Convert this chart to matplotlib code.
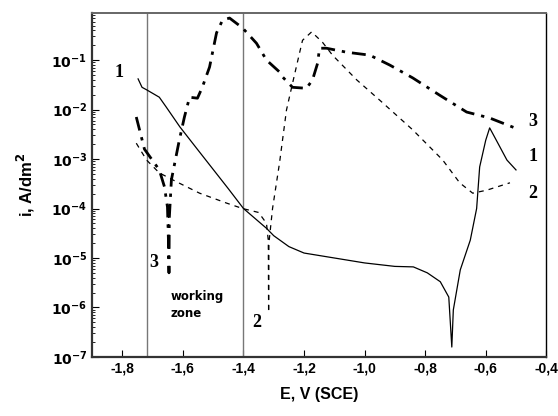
import matplotlib
matplotlib.use("Agg")
import matplotlib.pyplot as plt
import numpy as np

# curve 1 (solid)
e1 = [-1.748, -1.735, -1.72, -1.678, -1.655, -1.61, -1.55, -1.5, -1.45, -1.4, -1.324, -1.3,
      -1.25, -1.2, -1.1, -1.0, -0.9, -0.839, -0.793, -0.75, -0.722, -0.712, -0.707, -0.684,
      -0.651, -0.63, -0.62, -0.6, -0.587, -0.565, -0.53, -0.50]
lg1 = [-1.38, -1.55, -1.6, -1.75, -1.95, -2.35, -2.82, -3.21, -3.6, -4.0, -4.4, -4.55,
       -4.77, -4.9, -5.0, -5.1, -5.17, -5.18, -5.30, -5.48, -5.79, -6.8, -6.05, -5.24,
       -4.64, -4.0, -3.16, -2.62, -2.37, -2.62, -3.02, -3.22]

# curve 2 (thin dashed)
e2 = [-1.754, -1.72, -1.678, -1.621, -1.545, -1.456, -1.403, -1.35, -1.324, -1.318, -1.317,
      -1.316, -1.304, -1.281, -1.258, -1.238, -1.215, -1.205, -1.175, -1.139, -1.106, -1.026,
      -0.95, -0.841, -0.742, -0.686, -0.643, -0.597, -0.52]
lg2 = [-2.68, -3.02, -3.28, -3.46, -3.69, -3.89, -4.0, -4.08, -4.3, -4.65, -6.1,
       -4.7, -4.0, -3.08, -2.01, -1.47, -0.86, -0.6, -0.43, -0.64, -0.9, -1.4,
       -1.81, -2.41, -3.02, -3.48, -3.69, -3.63, -3.48]

# curve 3 (dash-dot)
e3 = [-1.754, -1.727, -1.678, -1.661, -1.651, -1.648, -1.646, -1.645, -1.638, -1.612, -1.595,
      -1.578, -1.552, -1.536, -1.512, -1.489, -1.469, -1.446, -1.403, -1.357, -1.324, -1.281,
      -1.271, -1.238, -1.192, -1.172, -1.155, -1.149, -1.126, -1.06, -0.983, -0.917, -0.841,
      -0.752, -0.663, -0.587, -0.504]
lg3 = [-2.15, -2.8, -3.22, -3.56, -3.97, -4.6, -5.3, -4.2, -3.42, -2.62, -2.15,
       -1.75, -1.77, -1.55, -1.14, -0.45, -0.19, -0.15, -0.35, -0.66, -1.0, -1.24,
       -1.34, -1.55, -1.57, -1.4, -1.06, -0.76, -0.76, -0.84, -0.90, -1.10, -1.36,
       -1.71, -2.05, -2.17, -2.37]

zone_edges = [-1.72, -1.4]
xticks = [-1.8, -1.6, -1.4, -1.2, -1.0, -0.8, -0.6, -0.4]
xticklabels = ["-1,8", "-1,6", "-1,4", "-1,2", "-1,0", "-0,8", "-0,6", "-0,4"]
yexps = [-7, -6, -5, -4, -3, -2, -1]

fig = plt.figure(figsize=(5.58, 4.16), dpi=100)
ax = fig.add_axes([0.165, 0.142, 0.814, 0.827])

for xv in zone_edges:
    ax.axvline(xv, color="#777777", lw=1.0)

ax.plot(e1, 10 ** np.array(lg1), color="black", lw=0.9)
ax.plot(e2, 10 ** np.array(lg2), color="black", lw=0.9, ls=(0, (4, 4)))
ax.plot(e3, 10 ** np.array(lg3), color="black", lw=2.0, ls=(0, (5, 2.5, 1.2, 2.5)))

ax.set_yscale("log")
ax.set_xlim(-1.9, -0.4)
ax.set_ylim(1e-7, 0.9)

ax.set_xticks(xticks)
ax.set_xticklabels(xticklabels, fontfamily="Liberation Sans", fontweight="bold", fontsize=10)
ax.set_yticks([10.0 ** k for k in yexps])
ax.set_yticklabels([r"$\mathbf{10^{%d}}$" % k for k in yexps], fontsize=10)
ax.tick_params(which="both", direction="in")
ax.tick_params(which="major", length=5)
ax.tick_params(which="minor", length=2.5)

for side in ["left", "bottom"]:
    ax.spines[side].set_linewidth(1.6)
    ax.spines[side].set_color("#333333")
ax.spines["top"].set_color("#666666")
ax.spines["top"].set_linewidth(1.4)
ax.spines["right"].set_linewidth(1.0)

ax.set_xlabel("E, V (SCE)", fontfamily="Liberation Sans", fontweight="bold", fontsize=11.5, labelpad=8)
ax.set_ylabel(r"i, A/dm$^{\mathbf{2}}$", fontfamily="Liberation Sans", fontweight="bold",
              fontsize=12, labelpad=10)

serif = dict(fontfamily="Liberation Serif", fontweight="bold", fontsize=13)
ax.text(-1.81, 10 ** -1.25, "1", ha="center", va="center", **serif)
ax.text(-1.695, 10 ** -5.1, "3", ha="center", va="center", **serif)
ax.text(-1.355, 10 ** -6.3, "2", ha="center", va="center", **serif)
ax.text(-0.445, 10 ** -2.25, "3", ha="center", va="center", **serif)
ax.text(-0.445, 10 ** -2.95, "1", ha="center", va="center", **serif)
ax.text(-0.445, 10 ** -3.7, "2", ha="center", va="center", **serif)
ax.text(-1.64, 10 ** -5.95, "working\nzone", ha="left", va="center",
        fontfamily="DejaVu Sans", fontweight="bold", fontsize=8.5, linespacing=1.4)

fig.savefig("out.png", dpi=100)
